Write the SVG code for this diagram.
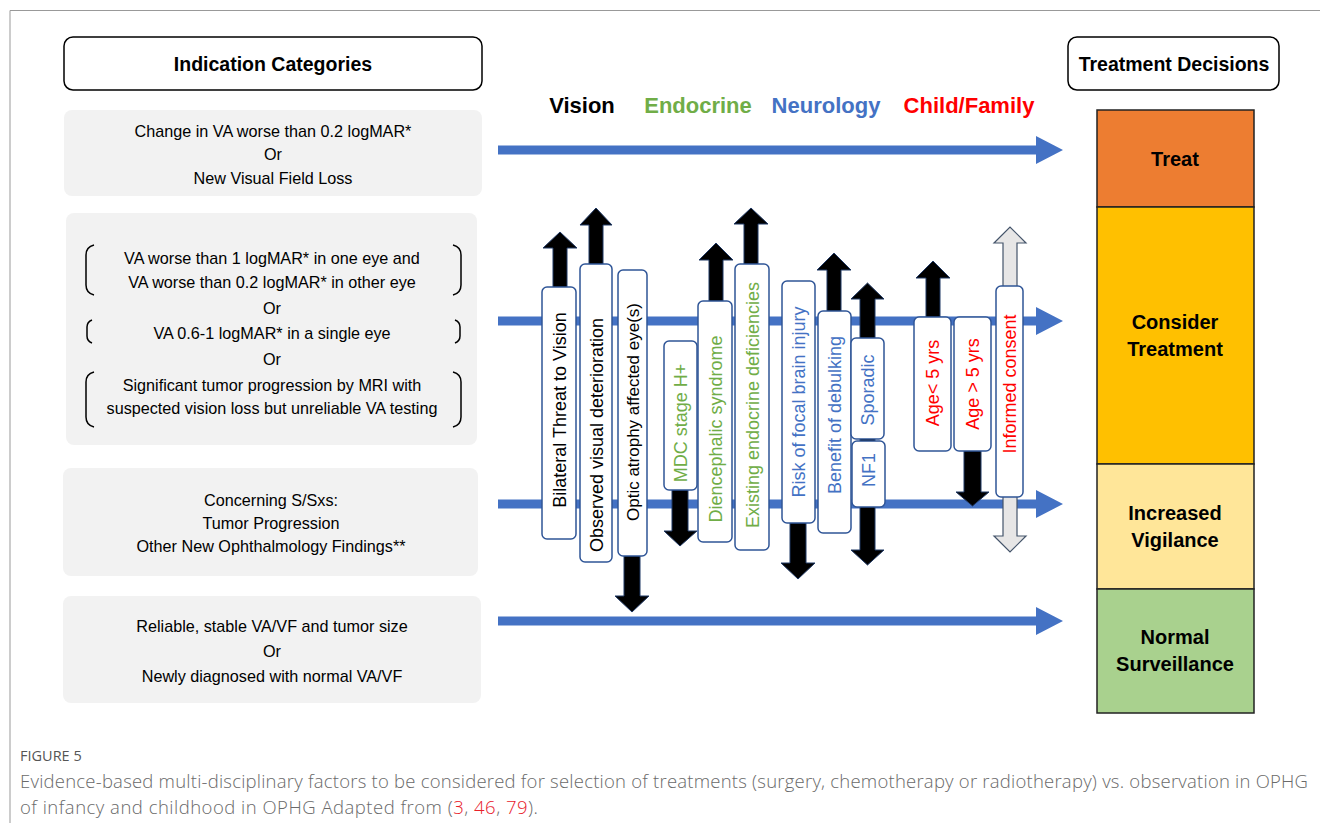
<svg xmlns="http://www.w3.org/2000/svg" width="1320" height="823" viewBox="0 0 1320 823">
<style>
.t{font-family:"Liberation Sans",Arial,sans-serif;font-size:16.2px;fill:#000;text-anchor:middle;dominant-baseline:central}
.hb{font-family:"Liberation Sans",Arial,sans-serif;font-weight:bold;font-size:19.5px;fill:#000;text-anchor:middle;dominant-baseline:central}
.cat{font-family:"Liberation Sans",Arial,sans-serif;font-weight:bold;font-size:22px;text-anchor:middle;dominant-baseline:central}
.dec{font-family:"Liberation Sans",Arial,sans-serif;font-weight:bold;font-size:20px;fill:#000;text-anchor:middle;dominant-baseline:central}
.gbox{fill:#F2F2F2;stroke:none}
.hbox{fill:#fff;stroke:#000;stroke-width:1.5}
.vbox{fill:#fff;stroke:#2F5597;stroke-width:1.5}
.vt{font-family:"Liberation Sans",Arial,sans-serif;font-size:18px;text-anchor:middle;dominant-baseline:central}
.blk{fill:#000;stroke:#1F3864;stroke-width:1}
.gry{fill:#E7E6E6;stroke:#44546A;stroke-width:1.2}
.blue{fill:#4472C4}
.br{fill:none;stroke:#000;stroke-width:1.5}
.cap{font-family:"Open Sans","Liberation Sans",sans-serif;font-weight:300;font-size:18.5px;fill:#6a6a6a}
.dc{stroke:#222;stroke-width:1.5}
</style>
<rect width="1320" height="823" fill="#fff"/>
<path d="M10,823 V10.5 H1320" fill="none" stroke="#999" stroke-width="1"/>

<!-- Left headers and indication boxes -->
<g id="hdr-indication">
<rect class="hbox" x="64" y="37" width="418" height="53" rx="9"/>
<text class="hb" x="273" y="64">Indication Categories</text>
</g>
<g id="ind-1">
<rect class="gbox" x="64" y="110" width="418" height="86" rx="8"/>
<text class="t" x="273" y="131">Change in VA worse than 0.2 logMAR*</text>
<text class="t" x="273" y="154">Or</text>
<text class="t" x="273" y="178">New Visual Field Loss</text>
</g>
<g id="ind-2">
<rect class="gbox" x="66" y="213" width="411" height="232" rx="8"/>
<text class="t" x="272" y="258">VA worse than 1 logMAR* in one eye and</text>
<text class="t" x="272" y="282">VA worse than 0.2 logMAR* in other eye</text>
<text class="t" x="272" y="308">Or</text>
<text class="t" x="272" y="333">VA 0.6-1 logMAR* in a single eye</text>
<text class="t" x="272" y="359">Or</text>
<text class="t" x="272" y="385">Significant tumor progression by MRI with</text>
<text class="t" x="272" y="408">suspected vision loss but unreliable VA testing</text>
<path class="br" d="M94,245 Q86,247 86,255 V285 Q86,293 94,295"/>
<path class="br" d="M453,245 Q461,247 461,255 V285 Q461,293 453,295"/>
<path class="br" d="M92,320 Q87,322 87,327 V336 Q87,341 92,343"/>
<path class="br" d="M455,320 Q460,322 460,327 V336 Q460,341 455,343"/>
<path class="br" d="M94,372 Q86,374 86,382 V417 Q86,425 94,427"/>
<path class="br" d="M453,372 Q461,374 461,382 V417 Q461,425 453,427"/>
</g>
<g id="ind-3">
<rect class="gbox" x="63" y="468" width="415" height="108" rx="8"/>
<text class="t" x="271" y="500">Concerning S/Sxs:</text>
<text class="t" x="271" y="523">Tumor Progression</text>
<text class="t" x="271" y="546">Other New Ophthalmology Findings**</text>
</g>
<g id="ind-4">
<rect class="gbox" x="63" y="596" width="418" height="107" rx="8"/>
<text class="t" x="272" y="626">Reliable, stable VA/VF and tumor size</text>
<text class="t" x="272" y="651">Or</text>
<text class="t" x="272" y="676">Newly diagnosed with normal VA/VF</text>
</g>

<!-- category labels -->
<g id="categories">
<text class="cat" x="582" y="105" fill="#000">Vision</text>
<text class="cat" x="698" y="105" fill="#70AD47">Endocrine</text>
<text class="cat" x="826" y="105" fill="#4472C4">Neurology</text>
<text class="cat" x="969" y="105" fill="#FF0000">Child/Family</text>
</g>

<!-- connectors: blue horizontal arrows -->
<g id="connectors">
<path class="blue" d="M498,145.5 H1036 V136 L1063,150 L1036,164 V154.5 H498 Z"/>
<path class="blue" d="M498,316.5 H1036 V307 L1063,321 L1036,335 V325.5 H498 Z"/>
<path class="blue" d="M498,499.5 H1036 V490 L1063,504 L1036,518 V508.5 H498 Z"/>
<path class="blue" d="M498,616.5 H1036 V607 L1063,621 L1036,635 V625.5 H498 Z"/>
</g>

<!-- vertical factor arrows and boxes -->
<g id="f-bilateral">
<polygon class="blk" points="553,292 553,248 543,248 560,232 577,248 567,248 567,292"/>
<rect class="vbox" x="542" y="287" width="34" height="252" rx="5"/>
<text class="vt" fill="#000" transform="translate(560,410) rotate(-90)">Bilateral Threat to Vision</text>
</g>
<g id="f-observed">
<polygon class="blk" points="589,270 589,225 580,225 596,208 612,225 603,225 603,270"/>
<rect class="vbox" x="580" y="264" width="32" height="298" rx="5"/>
<text class="vt" fill="#000" transform="translate(597,435) rotate(-90)">Observed visual deterioration</text>
</g>
<g id="f-optic">
<polygon class="blk" points="624,550 624,596 615,596 632,612 649,596 640,596 640,550"/>
<rect class="vbox" x="618" y="270" width="29" height="286" rx="5"/>
<text class="vt" fill="#000" style="font-size:17px" transform="translate(633,412) rotate(-90)">Optic atrophy affected eye(s)</text>
</g>
<g id="f-mdc">
<polygon class="blk" points="672,485 672,531 664,531 680,546 697,531 688,531 688,485"/>
<rect class="vbox" x="664" y="341" width="33" height="149" rx="5"/>
<text class="vt" fill="#70AD47" transform="translate(681,423) rotate(-90)">MDC stage H+</text>
</g>
<g id="f-diencephalic">
<polygon class="blk" points="709,306 709,260 699,260 716,243 733,260 723,260 723,306"/>
<rect class="vbox" x="698" y="301" width="34" height="241" rx="5"/>
<text class="vt" fill="#70AD47" transform="translate(716,429) rotate(-90)">Diencephalic syndrome</text>
</g>
<g id="f-existing">
<polygon class="blk" points="744,270 744,224 734,224 751,208 768,224 758,224 758,270"/>
<rect class="vbox" x="735" y="264" width="34" height="286" rx="5"/>
<text class="vt" fill="#70AD47" transform="translate(753,405) rotate(-90)">Existing endocrine deficiencies</text>
</g>
<g id="f-risk">
<polygon class="blk" points="790,518 790,563 781,563 798,579 815,563 806,563 806,518"/>
<rect class="vbox" x="782" y="281" width="33" height="242" rx="5"/>
<text class="vt" fill="#4472C4" transform="translate(799,402) rotate(-90)">Risk of focal brain injury</text>
</g>
<g id="f-benefit">
<polygon class="blk" points="827,316 827,270 817,270 834,253 851,270 841,270 841,316"/>
<rect class="vbox" x="818" y="311" width="33" height="222" rx="5"/>
<text class="vt" fill="#4472C4" transform="translate(835,415) rotate(-90)">Benefit of debulking</text>
</g>
<g id="f-sporadic-nf1">
<polygon class="blk" points="860,299 851,299 867.5,283 884,299 875,299 875,550 884,550 867.5,565 851,550 860,550"/>
<rect class="vbox" x="851" y="338" width="33" height="101" rx="5"/>
<text class="vt" fill="#4472C4" transform="translate(868,390) rotate(-90)">Sporadic</text>
<rect class="vbox" x="852" y="441" width="33" height="66" rx="5"/>
<text class="vt" fill="#4472C4" transform="translate(869,470) rotate(-90)">NF1</text>
</g>
<g id="f-age-under5">
<polygon class="blk" points="926,322 926,278 916,278 933,261 950,278 940,278 940,322"/>
<rect class="vbox" x="914" y="317" width="37" height="134" rx="5"/>
<text class="vt" fill="#FF0000" transform="translate(933,383) rotate(-90)">Age&lt; 5 yrs</text>
</g>
<g id="f-age-over5">
<polygon class="blk" points="964,446 964,492 956,492 972.5,506 989,492 981,492 981,446"/>
<rect class="vbox" x="954" y="317" width="37" height="134" rx="5"/>
<text class="vt" fill="#FF0000" transform="translate(973,384) rotate(-90)">Age &gt; 5 yrs</text>
</g>
<g id="f-consent">
<polygon class="gry" points="1003,243 994,243 1010,227 1026,243 1017,243 1017,536 1026,536 1010,552 994,536 1003,536"/>
<rect class="vbox" x="996" y="286" width="27" height="211" rx="5"/>
<text class="vt" fill="#FF0000" transform="translate(1010,384) rotate(-90)">Informed consent</text>
</g>

<!-- Treatment decisions -->
<g id="hdr-decisions">
<rect class="hbox" x="1068" y="37" width="211" height="53" rx="9"/>
<text class="hb" x="1174" y="64">Treatment Decisions</text>
</g>
<g id="d-treat">
<rect class="dc" x="1097" y="110" width="157" height="97" fill="#ED7D31"/>
<text class="dec" x="1175" y="159">Treat</text>
</g>
<g id="d-consider">
<rect class="dc" x="1097" y="207" width="157" height="257" fill="#FFC000"/>
<text class="dec" x="1175" y="322">Consider</text>
<text class="dec" x="1175" y="349">Treatment</text>
</g>
<g id="d-vigilance">
<rect class="dc" x="1097" y="464" width="157" height="125" fill="#FFE699"/>
<text class="dec" x="1175" y="513">Increased</text>
<text class="dec" x="1175" y="540">Vigilance</text>
</g>
<g id="d-normal">
<rect class="dc" x="1097" y="589" width="157" height="124" fill="#A9D18E"/>
<text class="dec" x="1175" y="637">Normal</text>
<text class="dec" x="1175" y="664">Surveillance</text>
</g>

<!-- caption -->
<g id="caption">
<text x="20" y="761" font-family="Open Sans, Liberation Sans, sans-serif" font-size="14.5px" fill="#555">FIGURE 5</text>
<text class="cap" x="20" y="788" textLength="1288" lengthAdjust="spacing">Evidence-based multi-disciplinary factors to be considered for selection of treatments (surgery, chemotherapy or radiotherapy) vs. observation in OPHG</text>
<text class="cap" x="20" y="814" textLength="518" lengthAdjust="spacing">of infancy and childhood in OPHG Adapted from (<tspan fill="#E8202A">3</tspan>, <tspan fill="#E8202A">46</tspan>, <tspan fill="#E8202A">79</tspan>).</text>
</g>
</svg>
